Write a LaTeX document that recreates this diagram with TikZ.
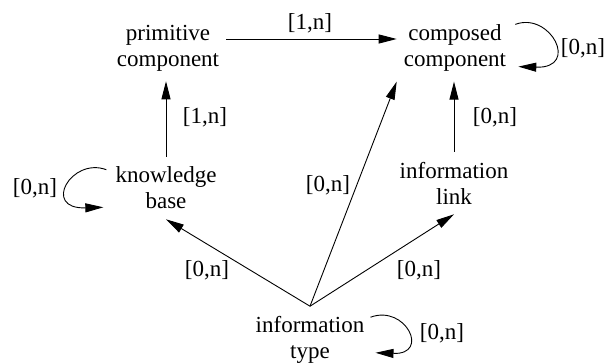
\documentclass[tikz,border=0pt]{standalone}
\usepackage{fontspec}
\setmainfont{Liberation Serif}
\usepackage{tikz}
\usetikzlibrary{arrows.meta,positioning}

\begin{document}
\begin{tikzpicture}[
  x=1pt, y=1pt,
  every node/.style={font=\fontsize{23}{26}\selectfont, align=center},
  n/.style={inner xsep=7pt, inner ysep=10pt},
  lbl/.style={inner sep=1pt},
  arr/.style={-{Triangle[length=18pt,width=9pt]}, line width=0.9pt},
]
  \useasboundingbox (0,0) rectangle (607,-363);

  \node[n] (prim) at (168,-48) {primitive\\component};
  \node[n] (comp) at (455,-48) {composed\\component};
  \node[n] (kb)   at (166,-188) {knowledge\\base};
  \node[n] (link) at (454,-183) {information\\link};
  \node[n] (type) at (310,-340) {information\\type};

  % cardinalities
  \node[lbl] (lpc) at (310,-23)  {[1,n]};
  \node[lbl] (lkp) at (205,-117) {[1,n]};
  \node[lbl] (llc) at (495,-117) {[0,n]};
  \node[lbl] (lcc) at (583,-48)  {[0,n]};
  \node[lbl] (lkb) at (35,-188)  {[0,n]};
  \node[lbl] (ltc) at (328,-185) {[0,n]};
  \node[lbl] (ltk) at (207,-270) {[0,n]};
  \node[lbl] (ltl) at (419,-270) {[0,n]};
  \node[lbl] (ltt) at (442,-333) {[0,n]};

  \draw[arr] ([yshift=9pt]prim.east) -- ([yshift=9pt]comp.west);
  \draw[arr] (kb.north) -- (kb.north |- prim.south);
  \draw[arr] (link.north) -- (link.north |- comp.south);
  \draw[arr] (type.north) -- (kb.south);
  \draw[arr] (type.north) -- (comp.south west);
  \draw[arr] (type.north) -- (link.south);

  % self loops
  \draw[arr] ([shift={(2pt,-10pt)}]comp.north east) .. controls +(35,13) and +(62,-2) .. ([shift={(5pt,15pt)}]comp.south east);
  \draw[arr] ([shift={(-2pt,-13pt)}]kb.north west) .. controls +(-35,13) and +(-62,-2) .. ([shift={(-5pt,12pt)}]kb.south west);
  \draw[arr] ([shift={(-1pt,-11pt)}]type.north east) .. controls +(35,13) and +(55,-2) .. ([shift={(4pt,21pt)}]type.south east);
\end{tikzpicture}
\end{document}
